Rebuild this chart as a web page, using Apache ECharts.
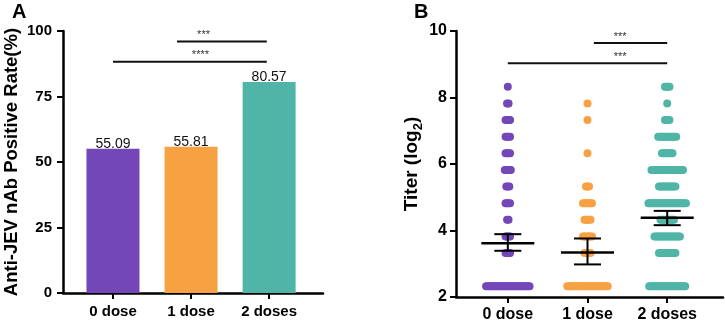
<!DOCTYPE html>
<html>
<head>
<meta charset="utf-8">
<script src="https://cdn.jsdelivr.net/npm/echarts@6/dist/echarts.min.js"></script>
<style>
  html, body { margin: 0; padding: 0; background: #fff; }
  #chart { width: 725px; height: 324px; }
</style>
</head>
<body>
<div id="chart"></div>
<script>
// groups
const categories = ['0 dose', '1 dose', '2 doses']
const colors = ['#7447b9', '#f7a143', '#50b5a7']

// panel A: positive rate (%)
const positiveRate = [55.09, 55.81, 80.57]
const rateTicks = [0, 25, 50, 75, 100]

// panel B: titer levels (log2) and number of dots at each level, per group
const titerLevels = [2.32, 3.32, 3.82, 4.32, 4.82, 5.32, 5.82, 6.32, 6.82, 7.32, 7.82, 8.32]
const counts0 = [30, 4, 4, 2, 4, 3, 5, 4, 4, 4, 2, 1]
const counts1 = [28, 5, 7, 5, 7, 3, 0, 1, 0, 1, 1, 0]
const counts2 = [25, 12, 18, 10, 26, 12, 22, 8, 13, 4, 1, 4]
// mean and error (lower, upper)
const titerMean = [3.62, 3.34, 4.38]
const titerLow = [3.39, 2.98, 4.16]
const titerHigh = [3.89, 3.76, 4.59]
const titerTicks = [2, 4, 6, 8, 10]

// significance brackets: [from, to, height, star position]
const sigA = [[0.82, 1.97, 96.0, 1.16], [0, 1.97, 88.3, 1.12]]
const sigAText = ['***', '****']
const sigB = [[1.08, 2, 9.64, 1.41], [0, 2, 9.03, 1.41]]
const sigBText = ['***', '***']

const FONT = 'Liberation Sans, Arial, sans-serif'

const chart = echarts.init(document.getElementById('chart'))

function xAxisOf(gridIndex, min, max, size, margin) {
  return {
    type: 'value',
    gridIndex: gridIndex,
    min: min,
    max: max,
    splitLine: { show: false },
    axisLine: { show: true, onZero: false, lineStyle: { color: '#000', width: 2.5 } },
    axisTick: { show: true, customValues: [0, 1, 2], length: 6, lineStyle: { color: '#000', width: 2 } },
    axisLabel: {
      customValues: [0, 1, 2],
      formatter: (v) => categories[Math.round(v)],
      color: '#000', fontWeight: 'bold', fontSize: size, fontFamily: FONT, margin: margin
    }
  }
}

function yAxisOf(gridIndex, ticks, size, margin) {
  return {
    type: 'value',
    gridIndex: gridIndex,
    min: ticks[0],
    max: ticks[ticks.length - 1],
    interval: ticks[1] - ticks[0],
    splitLine: { show: false },
    axisLine: { show: true, onZero: false, lineStyle: { color: '#000', width: 2.5 } },
    axisTick: { show: true, length: 6, lineStyle: { color: '#000', width: 2 } },
    axisLabel: { color: '#000', fontWeight: 'bold', fontSize: size, fontFamily: FONT, margin: margin }
  }
}

// brackets with stars
function bracketRender(texts) {
  return function(params, api) {
    const p1 = api.coord([api.value(0), api.value(2)])
    const p2 = api.coord([api.value(1), api.value(2)])
    const ps = api.coord([api.value(3), api.value(2)])
    return {
      type: 'group',
      children: [
        { type: 'line', shape: { x1: p1[0], y1: p1[1], x2: p2[0], y2: p2[1] }, style: { stroke: '#111', lineWidth: 2 } },
        { type: 'text', style: { text: texts[params.dataIndex], x: ps[0], y: p1[1] - 1, align: 'center', verticalAlign: 'bottom', fill: '#333', font: '11px ' + FONT } }
      ]
    }
  }
}

// one row of dots per titer level
function dotsRender(params, api) {
  const g = api.value(0)
  const n = api.value(2)
  const c = api.coord([g, api.value(1)])
  const gap = 1.5
  const children = []
  for (let i = 0; i < n; i++) {
    const off = (i - (n - 1) / 2) * gap
    children.push({ type: 'circle', shape: { cx: c[0] + off, cy: c[1], r: 4 }, style: { fill: colors[g] } })
  }
  return { type: 'group', children: children }
}

// mean line + error bar
function errorRender(params, api) {
  const g = api.value(0)
  const m = api.coord([g, api.value(1)])
  const lo = api.coord([g, api.value(2)])
  const hi = api.coord([g, api.value(3)])
  const black = { stroke: '#000', lineWidth: 2 }
  return {
    type: 'group',
    children: [
      { type: 'line', shape: { x1: m[0], y1: lo[1], x2: m[0], y2: hi[1] }, style: black },
      { type: 'line', shape: { x1: m[0] - 13.5, y1: lo[1], x2: m[0] + 13.5, y2: lo[1] }, style: black },
      { type: 'line', shape: { x1: m[0] - 13.5, y1: hi[1], x2: m[0] + 13.5, y2: hi[1] }, style: black },
      { type: 'line', shape: { x1: m[0] - 26.5, y1: m[1], x2: m[0] + 26.5, y2: m[1] }, style: { stroke: '#000', lineWidth: 2.5 } }
    ]
  }
}

const dotData = []
;[counts0, counts1, counts2].forEach((cs, g) => {
  cs.forEach((n, i) => {
    if (n > 0) dotData.push([g, titerLevels[i], n])
  })
})

chart.setOption({
  animation: false,
  title: [
    { text: 'A', left: 12, top: 2, padding: 0, textStyle: { fontSize: 20, fontWeight: 'bold', color: '#000', fontFamily: FONT } },
    { text: 'B', left: 414, top: 2, padding: 0, textStyle: { fontSize: 20, fontWeight: 'bold', color: '#000', fontFamily: FONT } }
  ],
  grid: [
    { left: 63, top: 31, width: 260, height: 262 },
    { left: 456, top: 31, width: 267, height: 266 }
  ],
  xAxis: [
    xAxisOf(0, -0.64, 2.69, 15, 11),
    xAxisOf(1, -0.65, 2.7, 16, 10)
  ],
  yAxis: [
    Object.assign(yAxisOf(0, rateTicks, 15, 11), {
      name: 'Anti-JEV nAb Positive Rate(%)',
      nameLocation: 'middle',
      nameGap: 42,
      nameTextStyle: { color: '#000', fontWeight: 'bold', fontSize: 18.5, fontFamily: FONT }
    }),
    Object.assign(yAxisOf(1, titerTicks, 16, 9), {
      name: '{a|Titer (log}{b|2}{a|)}',
      nameLocation: 'middle',
      nameGap: 30,
      nameTextStyle: {
        color: '#000', fontWeight: 'bold', fontSize: 19, fontFamily: FONT,
        rich: {
          a: { color: '#000', fontWeight: 'bold', fontSize: 19, fontFamily: FONT, verticalAlign: 'bottom', padding: [0, 0, 4, 0] },
          b: { color: '#000', fontWeight: 'bold', fontSize: 13, fontFamily: FONT, verticalAlign: 'bottom' }
        }
      }
    })
  ],
  series: [
    {
      type: 'bar',
      xAxisIndex: 0,
      yAxisIndex: 0,
      barWidth: 53,
      data: positiveRate.map((v, i) => ({ value: [i, v], itemStyle: { color: colors[i] } })),
      label: {
        show: true,
        position: 'top',
        distance: -2,
        formatter: (p) => p.value[1].toFixed(2),
        color: '#111',
        fontSize: 14,
        fontFamily: FONT
      }
    },
    {
      type: 'custom',
      xAxisIndex: 0,
      yAxisIndex: 0,
      renderItem: bracketRender(sigAText),
      data: sigA,
      encode: { x: [0, 1, 3], y: 2 },
      z: 5
    },
    {
      type: 'custom',
      xAxisIndex: 1,
      yAxisIndex: 1,
      renderItem: dotsRender,
      data: dotData,
      encode: { x: 0, y: 1 },
      z: 2
    },
    {
      type: 'custom',
      xAxisIndex: 1,
      yAxisIndex: 1,
      renderItem: errorRender,
      data: titerMean.map((m, i) => [i, m, titerLow[i], titerHigh[i]]),
      encode: { x: 0, y: [1, 2, 3] },
      z: 4
    },
    {
      type: 'custom',
      xAxisIndex: 1,
      yAxisIndex: 1,
      renderItem: bracketRender(sigBText),
      data: sigB,
      encode: { x: [0, 1, 3], y: 2 },
      z: 5
    }
  ]
})
</script>
</body>
</html>
